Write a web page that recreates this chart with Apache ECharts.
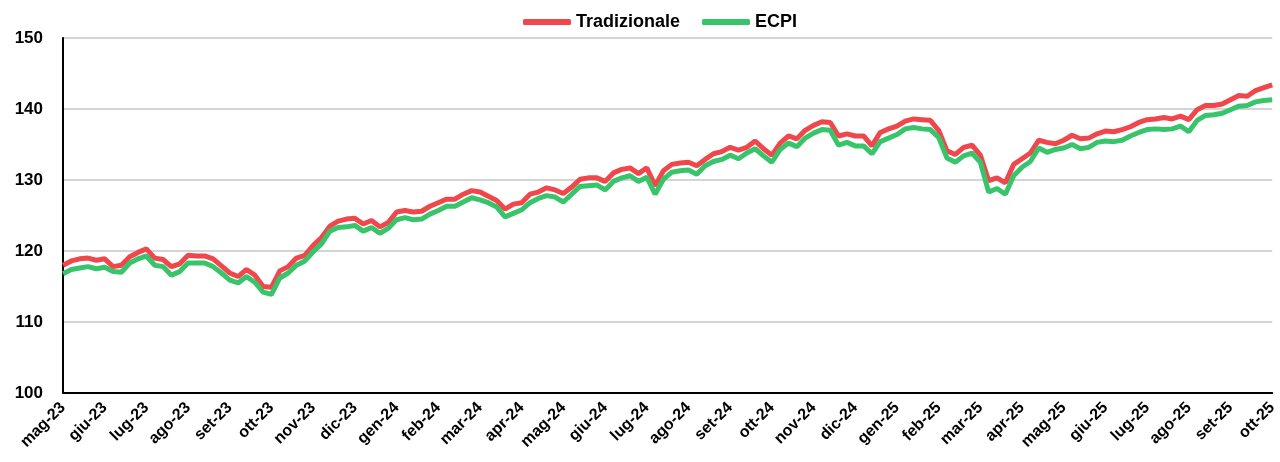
<!DOCTYPE html>
<html>
<head>
<meta charset="utf-8">
<script src="https://cdn.jsdelivr.net/npm/echarts@6/dist/echarts.min.js"></script>
<style>
  html, body { margin: 0; padding: 0; background: #fff; overflow: hidden; }
  #chart { width: 1280px; height: 462px; }
</style>
</head>
<body>
<div id="chart"></div>
<script>
// month labels on the x axis, one every 5 points
const months = ['mag-23', 'giu-23', 'lug-23', 'ago-23', 'set-23', 'ott-23', 'nov-23', 'dic-23',
    'gen-24', 'feb-24', 'mar-24', 'apr-24', 'mag-24', 'giu-24', 'lug-24', 'ago-24', 'set-24',
    'ott-24', 'nov-24', 'dic-24', 'gen-25', 'feb-25', 'mar-25', 'apr-25', 'mag-25', 'giu-25',
    'lug-25', 'ago-25', 'set-25', 'ott-25'];
const pointsPerMonth = 5;

const tradizionale = [
    118.0, 118.6, 118.9, 119.0, 118.7, 118.9, 117.8, 118.0, 119.2, 119.8,
    120.3, 119.0, 118.8, 117.8, 118.2, 119.4, 119.3, 119.3, 118.9, 117.9,
    116.9, 116.4, 117.4, 116.6, 115.0, 114.9, 117.2, 117.8, 119.0, 119.4,
    120.8, 121.9, 123.5, 124.2, 124.5, 124.6, 123.8, 124.3, 123.4, 124.0,
    125.5, 125.7, 125.5, 125.6, 126.3, 126.8, 127.3, 127.3, 128.0, 128.5,
    128.3, 127.7, 127.1, 125.9, 126.6, 126.8, 128.0, 128.3, 128.9, 128.6,
    128.1, 129.0, 130.1, 130.3, 130.3, 129.8, 131.0, 131.5, 131.7, 130.9,
    131.7, 129.2, 131.3, 132.2, 132.4, 132.5, 132.0, 132.9, 133.7, 134.0,
    134.6, 134.2, 134.6, 135.5, 134.4, 133.5, 135.2, 136.2, 135.8, 137.0,
    137.7, 138.2, 138.1, 136.2, 136.5, 136.2, 136.2, 134.8, 136.7, 137.2,
    137.6, 138.3, 138.6, 138.5, 138.4, 137.0, 134.1, 133.6, 134.6, 134.9,
    133.5, 129.9, 130.3, 129.6, 132.2, 133.0, 133.8, 135.6, 135.3, 135.1,
    135.6, 136.3, 135.8, 135.9, 136.5, 136.9, 136.8, 137.1, 137.5, 138.1,
    138.5, 138.6, 138.8, 138.6, 139.0, 138.5, 139.9, 140.5, 140.5, 140.7,
    141.3, 141.9, 141.8, 142.6, 143.0, 143.4
];

const ecpi = [
    116.8, 117.4, 117.6, 117.8, 117.5, 117.7, 117.1, 117.0, 118.3, 118.9,
    119.3, 118.0, 117.8, 116.6, 117.1, 118.3, 118.3, 118.3, 117.8, 116.9,
    115.9, 115.5, 116.4, 115.6, 114.2, 113.9, 116.2, 116.9, 118.0, 118.6,
    119.9, 121.0, 122.8, 123.3, 123.4, 123.6, 122.8, 123.3, 122.5, 123.2,
    124.4, 124.7, 124.4, 124.5, 125.2, 125.7, 126.3, 126.3, 126.9, 127.5,
    127.2, 126.8, 126.2, 124.8, 125.3, 125.8, 126.8, 127.4, 127.8, 127.6,
    126.9, 128.0, 129.1, 129.2, 129.3, 128.6, 129.8, 130.3, 130.6, 129.8,
    130.4, 128.0, 130.1, 131.1, 131.3, 131.4, 130.8, 132.0, 132.6, 132.9,
    133.5, 133.0, 133.8, 134.4, 133.4, 132.5, 134.3, 135.2, 134.7, 135.9,
    136.6, 137.1, 137.0, 134.9, 135.3, 134.8, 134.8, 133.7, 135.4, 135.9,
    136.4, 137.2, 137.4, 137.2, 137.1, 136.0, 133.1, 132.5, 133.4, 133.8,
    132.5, 128.3, 128.8, 128.0, 130.6, 131.8, 132.6, 134.5, 133.9, 134.3,
    134.5, 135.0, 134.4, 134.6, 135.3, 135.5, 135.4, 135.6, 136.2, 136.7,
    137.1, 137.2, 137.1, 137.2, 137.6, 136.8, 138.4, 139.1, 139.2, 139.4,
    139.9, 140.4, 140.5, 141.0, 141.2, 141.3
];

// category axis: month label followed by blank slots
const categories = [];
months.forEach((m, i) => {
    categories.push(m);
    if (i < months.length - 1) {
        for (let k = 1; k < pointsPerMonth; k++) categories.push('');
    }
});

const colors = {
    red: '#F0474C',
    green: '#38C46B',
};

const chart = echarts.init(document.getElementById('chart'));

const option = {
    backgroundColor: '#fff',
    animation: false,
    legend: {
        top: 8,
        left: 518,
        icon: 'roundRect',
        itemWidth: 48,
        itemHeight: 6,
        itemGap: 22,
        textStyle: {
            fontFamily: 'Liberation Sans',
            fontWeight: 'bold',
            fontSize: 18,
            color: '#000',
        },
        data: ['Tradizionale', 'ECPI'],
    },
    grid: {
        left: 63,
        right: 1,
        top: 38,
        bottom: 69,
        containLabel: false,
    },
    xAxis: {
        type: 'category',
        data: categories,
        boundaryGap: false,
        axisLine: { lineStyle: { color: '#000', width: 2 } },
        axisTick: { show: false },
        axisLabel: {
            interval: pointsPerMonth - 1,
            rotate: 45,
            margin: 12,
            fontFamily: 'Liberation Sans',
            fontWeight: 'bold',
            fontSize: 16,
            color: '#000',
        },
        splitLine: { show: false },
    },
    yAxis: {
        type: 'value',
        min: 100,
        max: 150,
        interval: 10,
        axisLine: { show: true, lineStyle: { color: '#000', width: 2 } },
        axisTick: { show: false },
        axisLabel: {
            margin: 20,
            fontFamily: 'Liberation Sans',
            fontWeight: 'bold',
            fontSize: 17,
            color: '#000',
        },
        splitLine: { lineStyle: { color: '#d4d4d4', width: 2 } },
    },
    series: [
        {
            name: 'Tradizionale',
            type: 'line',
            data: tradizionale,
            symbol: 'none',
            itemStyle: { color: colors.red },
            lineStyle: { color: colors.red, width: 5 },
        },
        {
            name: 'ECPI',
            type: 'line',
            data: ecpi,
            symbol: 'none',
            itemStyle: { color: colors.green },
            lineStyle: { color: colors.green, width: 5 },
        },
    ],
};

chart.setOption(option);
</script>
</body>
</html>
